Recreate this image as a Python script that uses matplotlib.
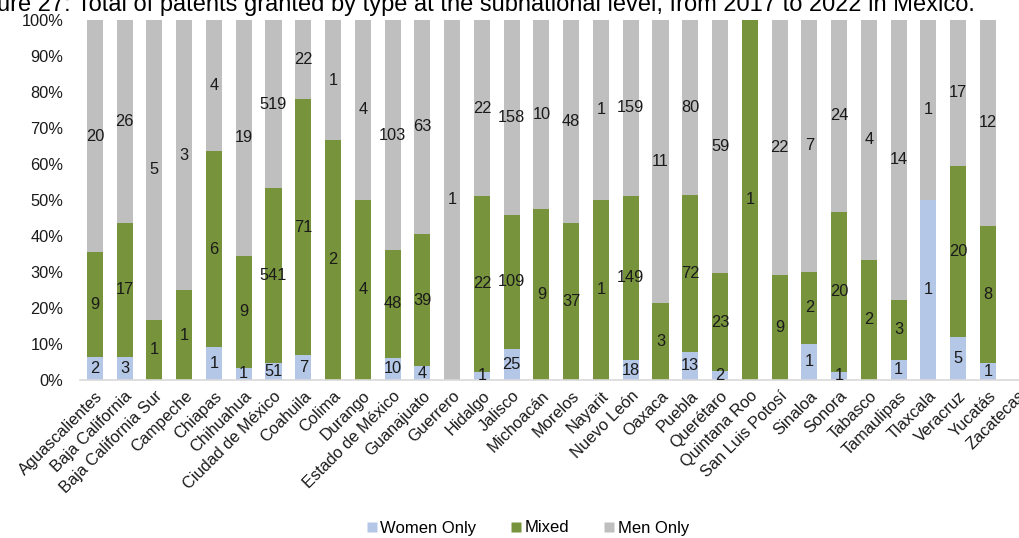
import matplotlib
matplotlib.use("Agg")
import matplotlib.pyplot as plt
import matplotlib.transforms as mtransforms
import numpy as np
from matplotlib.lines import Line2D

plt.rcParams['font.family'] = ['Liberation Sans', 'DejaVu Sans']

states = [
    "Aguascalientes", "Baja California", "Baja California Sur", "Campeche",
    "Chiapas", "Chihuahua", "Ciudad de México", "Coahuila", "Colima",
    "Durango", "Estado de México", "Guanajuato", "Guerrero", "Hidalgo",
    "Jalisco", "Michoacán", "Morelos", "Nayarit", "Nuevo León", "Oaxaca",
    "Puebla", "Querétaro", "Quintana Roo", "San Luis Potosí", "Sinaloa",
    "Sonora", "Tabasco", "Tamaulipas", "Tlaxcala", "Veracruz", "Yucatás",
    "Zacatecas",
]
women_only = [2, 3, 0, 0, 1, 1, 51, 7, 0, 0, 10, 4, 0, 1, 25, 0, 0, 0, 18, 0,
              13, 2, 0, 0, 1, 1, 0, 1, 1, 5, 1, 0]
mixed = [9, 17, 1, 1, 6, 9, 541, 71, 2, 4, 48, 39, 0, 22, 109, 9, 37, 1, 149, 3,
         72, 23, 1, 9, 2, 20, 2, 3, 0, 20, 8, 0]
men_only = [20, 26, 5, 3, 4, 19, 519, 22, 1, 4, 103, 63, 1, 22, 158, 10, 48, 1,
            159, 11, 80, 59, 0, 22, 7, 24, 4, 14, 1, 17, 12, 0]

series_names = ["Women Only", "Mixed", "Men Only"]
series_colors = ["#B4C7E7", "#77933C", "#BFBFBF"]
y_ticks = [0, 10, 20, 30, 40, 50, 60, 70, 80, 90, 100]

counts = np.array([women_only, mixed, men_only], dtype=float)
totals = counts.sum(axis=0)
safe_totals = np.where(totals == 0, 1, totals)
shares = counts / safe_totals * 100

fig = plt.figure(figsize=(10.19, 5.38), dpi=100)
ax = fig.add_axes([80 / 1019, 158 / 538, 952.6 / 1019, 360 / 538])

x = np.arange(len(states))
bottom = np.zeros(len(states))
for i in range(3):
    ax.bar(x, shares[i], bottom=bottom, width=0.54, color=series_colors[i],
           edgecolor="none", zorder=2)
    for j in range(len(states)):
        if counts[i, j] > 0:
            ax.text(x[j], bottom[j] + shares[i, j] / 2, f"{int(counts[i, j])}",
                    ha="center", va="center", fontsize=11.8, color="#1a1a1a",
                    zorder=3)
    bottom += shares[i]

ax.set_xlim(-0.5, len(states) - 0.5)
ax.set_ylim(0, 100)
ax.set_yticks(y_ticks)
ax.set_yticklabels([f"{t}%" for t in y_ticks], fontsize=11.8, color="#1a1a1a")
shift_down = mtransforms.ScaledTranslation(0, -2 / 100, fig.dpi_scale_trans)
for lbl in ax.get_yticklabels():
    lbl.set_transform(lbl.get_transform() + shift_down)
ax.set_xticks(x)
ax.set_xticklabels(states, rotation=45, ha="right", va="top",
                   rotation_mode="anchor", fontsize=11.8, color="#1a1a1a")
ax.tick_params(axis="both", length=0)
ax.tick_params(axis="y", pad=12)
ax.tick_params(axis="x", pad=6)
for side in ["left", "right", "top"]:
    ax.spines[side].set_visible(False)
ax.spines["bottom"].set_color("#D9D9D9")
ax.spines["bottom"].set_linewidth(1.2)

handles = [Line2D([0], [0], marker="s", linestyle="none", markersize=7,
                  markerfacecolor=c, markeredgecolor="none") for c in series_colors]
fig.legend(handles, series_names, loc="center", bbox_to_anchor=(527 / 1019, 10 / 538),
           ncol=3, frameon=False, fontsize=12, handletextpad=0.1,
           columnspacing=2.0, handlelength=0.8)

fig.text(975 / 1019, 1 - 11 / 538,
         "Figure 27: Total of patents granted by type at the subnational level, "
         "from 2017 to 2022 in Mexico.",
         ha="right", va="baseline", fontsize=17, color="#000000")

fig.savefig("out.png", dpi=100, facecolor="white")
